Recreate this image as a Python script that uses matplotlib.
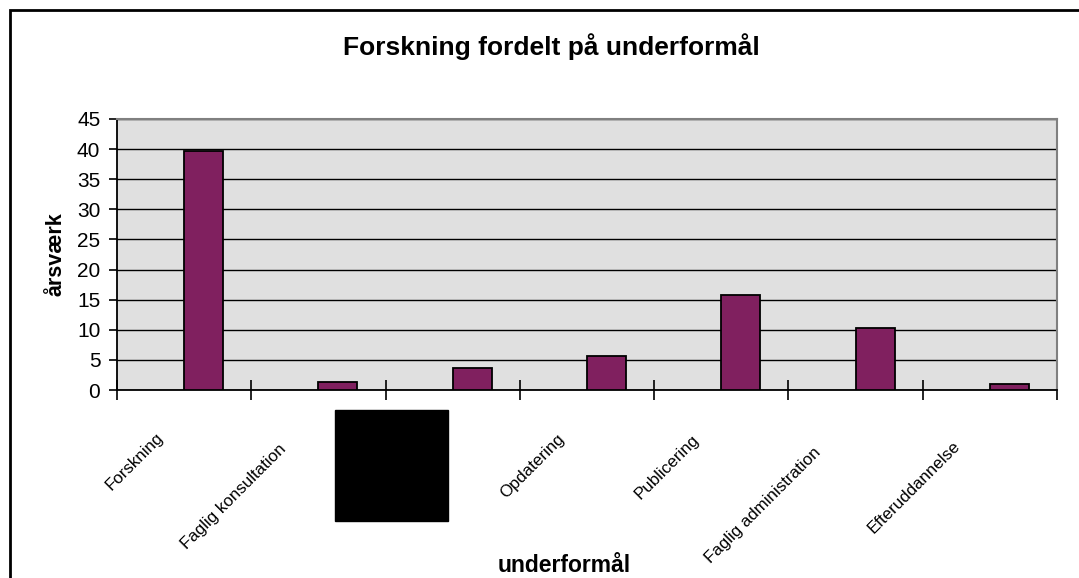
import numpy as np
import matplotlib
matplotlib.use("Agg")
from matplotlib import pyplot as plt
from matplotlib import font_manager
from matplotlib.patches import Rectangle

# data
categories = ["Forskning", "Faglig konsultation", "", "Opdatering",
              "Publicering", "Faglig administration", "Efteruddannelse"]
aarsvaerk = [39.7, 1.3, 3.6, 5.6, 15.7, 10.3, 1.0]
yticks = [0, 5, 10, 15, 20, 25, 30, 35, 40, 45]

plt.rcParams['font.family'] = ['Liberation Sans', 'DejaVu Sans']

names = {f.name for f in font_manager.fontManager.ttflist}
if 'Liberation Sans Narrow' in names:
    lab_family, lab_size = ['Liberation Sans Narrow'], 14.3
else:
    lab_family, lab_size = ['Liberation Sans'], 12.2

W, H = 1079, 578
fig = plt.figure(figsize=(W / 100, H / 100), dpi=100)

# outer chart frame (runs off right/bottom edge)
fig.patches.append(Rectangle((10 / W, -0.1), 1.2, 1 - 10 / H + 0.1,
                             transform=fig.transFigure, fill=False,
                             edgecolor='black', linewidth=2))

ax = fig.add_axes([117 / W, (H - 390) / H, 940 / W, 271 / H])
ax.set_facecolor('#E0E0E0')

x = np.arange(len(categories))
ax.bar(x, aarsvaerk, width=0.29, align='edge', color='#80205F',
       edgecolor='black', linewidth=1.3, zorder=3)

ax.set_xlim(-0.5, len(categories) - 0.5)
ax.set_ylim(0, 45)
ax.set_yticks(yticks)
ax.yaxis.grid(True, color='black', linewidth=1.0, zorder=1)
ax.set_axisbelow(True)

ax.spines['left'].set_color('black')
ax.spines['bottom'].set_color('black')
ax.spines['left'].set_linewidth(1.3)
ax.spines['bottom'].set_linewidth(1.3)
ax.spines['top'].set_color('#808080')
ax.spines['right'].set_color('#808080')
ax.spines['top'].set_linewidth(1.5)
ax.spines['right'].set_linewidth(1.5)

ax.tick_params(axis='y', direction='out', length=6, width=1.2,
               labelsize=15, pad=6)
# category boundaries as crossing ticks
ax.set_xticks(np.arange(-0.5, len(categories), 1.0))
ax.set_xticklabels([])
ax.tick_params(axis='x', direction='inout', length=14, width=1.2)

# rotated category labels, anchored a quarter in from their end
r = fig.canvas.get_renderer()
for i, lab in enumerate(categories):
    if not lab:
        continue
    tmp = fig.text(0, 0, lab, fontsize=lab_size, family=lab_family)
    L = tmp.get_window_extent(r).width
    tmp.remove()
    s = 0.25 * L * 0.7071
    ax.annotate(lab, xy=(i, 0), xycoords=('data', 'axes fraction'),
                xytext=(-10 - s, -32 - s), textcoords='offset pixels',
                rotation=45, ha='right', va='center',
                rotation_mode='anchor', fontsize=lab_size, family=lab_family)

ax.set_ylabel('årsværk', fontsize=15.5, fontweight='bold')
ax.yaxis.set_label_coords((66 - 117) / 940, 0.5)

fig.text(551 / W, 1 - 47 / H, 'Forskning fordelt på underformål',
         ha='center', va='center', fontsize=19, fontweight='bold')
fig.text(564 / W, 1 - 565 / H, 'underformål',
         ha='center', va='center', fontsize=16.5, fontweight='bold')

# redaction box over the third label
fig.patches.append(Rectangle((335 / W, 1 - 521 / H), 113 / W, 111 / H,
                             transform=fig.transFigure, facecolor='black',
                             edgecolor='black', zorder=10))

fig.savefig('out.png', dpi=100)
